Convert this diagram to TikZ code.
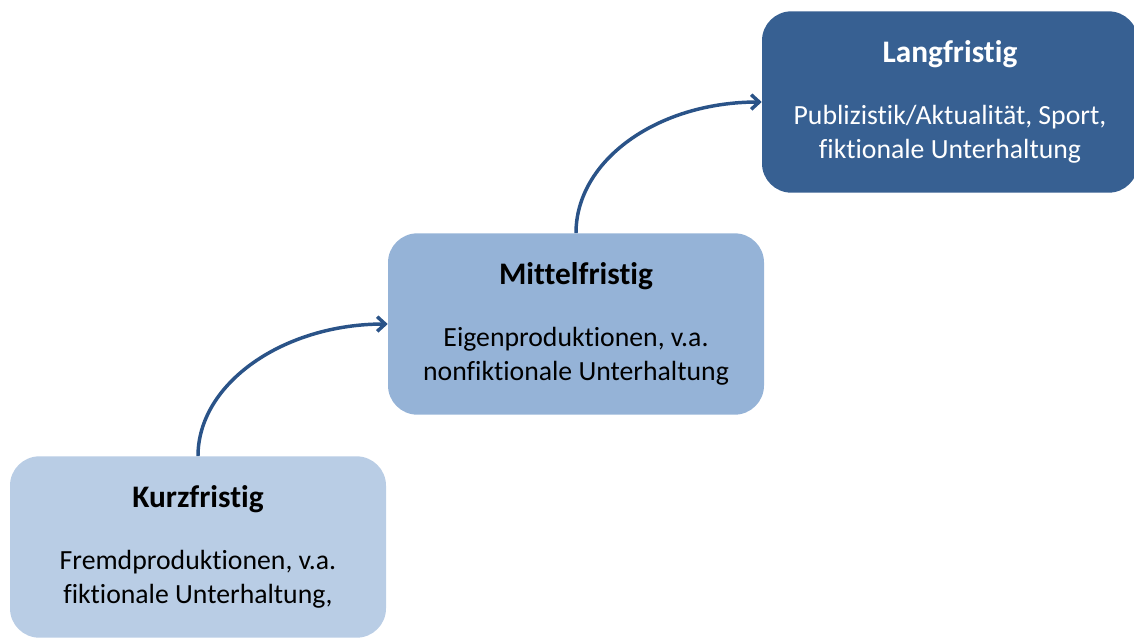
\documentclass[tikz,border=0pt]{standalone}
\usepackage{fontspec}
\setmainfont{Carlito}[Ligatures=NoCommon]
\usetikzlibrary{arrows.meta}
\definecolor{kurzc}{HTML}{B9CDE5}
\definecolor{mittelc}{HTML}{95B3D7}
\definecolor{langc}{HTML}{376092}
\definecolor{arrowc}{HTML}{2A5388}
\begin{document}
\begin{tikzpicture}[x=0.75pt,y=-0.75pt,
  stagebox/.style={rectangle, rounded corners=22pt, draw=none,
    minimum width=282pt, minimum height=136pt, inner sep=0pt,
    align=center, font=\fontsize{20.8}{25.5}\selectfont},
  flow/.style={draw=arrowc, line width=2.6pt,
    -{Straight Barb[length=6pt,width=11pt,line width=2.6pt]}}]
\useasboundingbox (0,0) rectangle (1134,637);
\node[stagebox, fill=kurzc, text=black] (kurz) at (198,547)
  {{\bfseries\fontsize{23.5}{25.5}\selectfont Kurzfristig}\\[21pt]Fremdproduktionen, v.a.\\fiktionale Unterhaltung,};
\node[stagebox, fill=mittelc, text=black] (mittel) at (576,324)
  {{\bfseries\fontsize{23.5}{25.5}\selectfont Mittelfristig}\\[21pt]Eigenproduktionen, v.a.\\nonfiktionale Unterhaltung};
\node[stagebox, fill=langc, text=white] (lang) at (950,102)
  {{\bfseries\fontsize{23.5}{25.5}\selectfont Langfristig}\\[21pt]Publizistik/Aktualität, Sport,\\fiktionale Unterhaltung};
\draw[flow] (kurz.north) .. controls +(0,-73) and +(-104,0) .. (mittel.west);
\draw[flow] (mittel.north) .. controls +(0,-73) and +(-104,0) .. (lang.west);
\end{tikzpicture}
\end{document}
